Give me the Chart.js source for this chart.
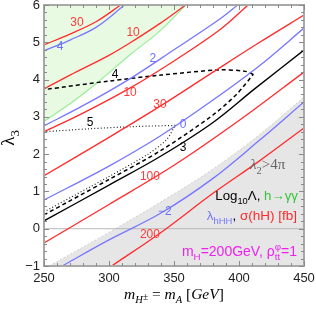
<!DOCTYPE html>
<html><head><meta charset="utf-8">
<script src="https://cdn.jsdelivr.net/npm/chart.js@4.4.0/dist/chart.umd.min.js"></script>
<style>html,body{margin:0;padding:0;background:#fff}canvas{display:block}</style>
</head><body>
<canvas id="c" width="316" height="309"></canvas>
<script>
// ---- axis ranges and ticks ----
const xTicks = [250, 300, 350, 400, 450];
const yTicks = [-1, 0, 1, 2, 3, 4, 5, 6];

// ---- sigma(hH) [fb] contours (red) ----
const sigma30Upper = [[250,4.93],[270,5.22],[290,5.55],[309,6]];
const sigma10Upper = [[250,3.75],[270,4.12],[300,4.65],[316,4.98],[339,5.5],[359,6]];
const sigma10Lower = [[250,2.6],[280,3.1],[316,3.77],[350,4.5],[385,5.33],[407,6]];
const sigma30Lower = [[250,1.42],[300,2.45],[340,3.3],[380,4.2],[415,4.98],[450,5.73]];
const sigma100     = [[250,-0.38],[300,0.65],[350,1.7],[400,2.9],[450,4.2]];
const sigma200     = [[302,-1],[340,-0.1],[380,0.95],[415,1.8],[450,2.7]];
// ---- lambda_hHH contours (blue) ----
const lam4  = [[250,4.77],[270,5.06],[290,5.4],[312,6]];
const lam2  = [[250,2.76],[280,3.3],[316,4.02],[350,4.8],[385,5.62],[399,6]];
const lam0  = [[250,0.77],[300,1.68],[340,2.5],[380,3.45],[415,4.35],[450,5.38]];
const lamM2 = [[264,-1],[300,-0.3],[340,0.42],[380,1.35],[415,2.35],[450,3.4]];
// ---- Log10 Lambda contours (black) ----
const log3       = [[250,0.21],[300,1.17],[340,1.95],[380,2.85],[412,3.75],[450,4.79]];
const log4Lower  = [[250,0.37],[300,1.32],[340,2.1],[380,3.05],[398,3.6],[411,4.14]];
const log4Upper  = [[411,4.14],[405,4.22],[385,4.26],[340,4.12],[300,3.96],[250,3.73]];
const log5Lower  = [[250,0.45],[300,1.4],[330,2.0],[344,2.38],[351,2.77]];
const log5Upper  = [[351,2.77],[320,2.74],[285,2.68],[250,2.6]];
// ---- h->gamma gamma boundary (excluded above) ----
const hgg = [[250,2.88],[270,3.35],[289,3.86],[316,4.66],[339,5.3],[359,6]];
// ---- lambda2 > 4pi boundary (excluded below) ----
const pertBound = [[254,-1],[300,-0.1],[340,0.72],[380,1.6],[415,2.5],[450,3.53]];
// ---- y = 0 axis line ----
const zeroLine = [[250,0],[450,0]];

// ---- contour labels ----
const cLabelText = ['30','4','10','2','4','10','30','5','0','3','100','\u22122','200'];
const cLabelX    = [275.4,262.3,318.5,333.8,304.6,316.2,339.2,285.4,357,357,331.5,343,331.5];
const cLabelY    = [5.52,4.87,5.25,4.55,4.12,3.64,3.32,2.84,2.78,2.17,1.39,0.45,-0.17];
const cLabelKind = ['r','b','r','b','k','r','r','k','b','k','r','b','r'];

const RED = '#ff2b2b', BLUE = '#7676ff', BLACK = '#000', GREEN = '#33c533', MAG = '#ee22ee';
const kindColor = {r:'#ff3a3a', b:'#6e6eff', k:'#000'};

const pts = a => a.map(p => ({x:p[0], y:p[1]}));
function ds(data, color, extra) {
  return Object.assign({data: pts(data), borderColor: color, borderWidth: 1.3, pointRadius: 0,
    tension: 0.35, fill: false}, extra || {});
}
const dashed = {borderWidth: 1.5, borderDash: [4, 3], tension: 0.3};
const dotted = {borderWidth: 1.2, borderDash: [1, 2.2], tension: 0.3};

const datasets = [
  ds(sigma30Upper, RED), ds(sigma10Upper, RED), ds(sigma10Lower, RED), ds(sigma30Lower, RED),
  ds(sigma100, RED), ds(sigma200, RED),
  ds(lam4, BLUE), ds(lam2, BLUE), ds(lam0, BLUE), ds(lamM2, BLUE),
  ds(log3, BLACK, {borderWidth: 1.4}),
  ds(log4Lower, BLACK, dashed), ds(log4Upper, BLACK, dashed),
  ds(log5Lower, '#222', dotted), ds(log5Upper, '#222', dotted),
  ds(zeroLine, '#b8b8b8', {borderWidth: 1, tension: 0}),
  ds(hgg, '#98ec98', {borderWidth: 1.2, fill: 'end', backgroundColor: '#e9fae3'}),
  ds(pertBound, '#cfcfcf', {borderWidth: 1, borderDash: [2, 2], fill: 'start', backgroundColor: '#e6e6e6'})
];

function layoutRuns(ctx, runs, size, fam) {
  let w = 0, pending = 0; const out = [];
  for (const r of runs) {
    const fs = size * (r.sc || 1);
    ctx.font = (r.it ? 'italic ' : '') + fs + 'px ' + (r.f || fam);
    const tw = ctx.measureText(r.t).width;
    out.push(Object.assign({}, r, {fs: fs, x: w}));
    if (r.keep) pending = Math.max(pending, tw);
    else { w += Math.max(tw, pending); pending = 0; }
  }
  return {out: out, w: w};
}
function drawRich(ctx, runs, x, y, align, size, fam) {
  const L = layoutRuns(ctx, runs, size, fam);
  let x0 = align === 'right' ? x - L.w : align === 'center' ? x - L.w / 2 : x;
  ctx.textAlign = 'left'; ctx.textBaseline = 'alphabetic';
  for (const r of L.out) {
    ctx.font = (r.it ? 'italic ' : '') + r.fs + 'px ' + (r.f || fam);
    ctx.fillStyle = r.c || '#000';
    ctx.fillText(r.t, x0 + r.x, y + (r.dy || 0) * size);
  }
}

const SANS = '"Liberation Sans", Arial, sans-serif';
const SERIF = '"Liberation Serif", "DejaVu Serif", serif';

const decor = {
  id: 'decor',
  afterDatasetsDraw(chart) {
    const {ctx, chartArea: a, scales: {x, y}} = chart;
    ctx.save();
    // contour labels
    ctx.font = '12px ' + SANS; ctx.textAlign = 'center'; ctx.textBaseline = 'middle';
    for (let i = 0; i < cLabelText.length; i++) {
      ctx.fillStyle = kindColor[cLabelKind[i]];
      ctx.fillText(cLabelText[i], x.getPixelForValue(cLabelX[i]), y.getPixelForValue(cLabelY[i]));
    }
    // annotations
    drawRich(ctx, [{t:'\u03bb', it:true, c:'#666'}, {t:'2', sc:0.7, dy:0.3, c:'#666'}, {t:'>4\u03c0', c:'#666'}],
      x.getPixelForValue(408.5), y.getPixelForValue(1.6), 'left', 15, SERIF);
    drawRich(ctx, [{t:'Log', c:'#000'}, {t:'10', sc:0.7, dy:0.3}, {t:'\u039b, ', c:'#000'}, {t:'h\u2192\u03b3\u03b3', c:GREEN}],
      x.getPixelForValue(445.4), y.getPixelForValue(0.77), 'right', 13.3, SANS);
    drawRich(ctx, [{t:'\u03bb', c:BLUE}, {t:'hHH', sc:0.7, dy:0.3, c:BLUE}, {t:', ', c:'#000'}, {t:'\u03c3(hH) [fb]', c:RED}],
      x.getPixelForValue(444.6), y.getPixelForValue(0.24), 'right', 13.5, SANS);
    drawRich(ctx, [{t:'m', c:MAG}, {t:'H', sc:0.7, dy:0.3, c:MAG}, {t:'=200GeV, \u03c1', c:MAG},
      {t:'\u03c6', sc:0.7, dy:-0.45, c:MAG, keep:true}, {t:'tt', sc:0.7, dy:0.3, c:MAG}, {t:'=1', c:MAG}],
      x.getPixelForValue(444.6), y.getPixelForValue(-0.73), 'right', 14, SANS);

    // frame
    ctx.strokeStyle = '#a8a8a8'; ctx.lineWidth = 2;
    ctx.strokeRect(a.left, a.top, a.right - a.left, a.bottom - a.top);
    // ticks
    ctx.strokeStyle = '#8a8a8a'; ctx.lineWidth = 1;
    ctx.beginPath();
    for (let v = 250; v <= 450; v += 10) {
      const px = Math.round(x.getPixelForValue(v)) + 0.5;
      const L = (v % 50 === 0) ? 5 : 3;
      ctx.moveTo(px, a.bottom); ctx.lineTo(px, a.bottom - L);
      ctx.moveTo(px, a.top); ctx.lineTo(px, a.top + L);
    }
    for (let k = -5; k <= 30; k++) {
      const v = k / 5;
      const py = Math.round(y.getPixelForValue(v)) + 0.5;
      const L = (k % 5 === 0) ? 5 : 3;
      ctx.moveTo(a.left, py); ctx.lineTo(a.left + L, py);
      ctx.moveTo(a.right, py); ctx.lineTo(a.right - L, py);
    }
    ctx.stroke();

    // x axis title
    drawRich(ctx, [{t:'m', it:true}, {t:'H', it:true, sc:0.68, dy:0.28}, {t:'\u00b1', sc:0.6, dy:0.05},
      {t:' = '}, {t:'m', it:true}, {t:'A', it:true, sc:0.68, dy:0.28}, {t:' ['}, {t:'GeV', it:true}, {t:']'}],
      174, 299, 'center', 15.5, SERIF);
    // y axis title
    ctx.translate(14, 138); ctx.rotate(-Math.PI / 2);
    drawRich(ctx, [{t:'\u03bb'}, {t:'3', sc:0.68, dy:0.28}], 0, 0, 'center', 19, SERIF);
    ctx.restore();
  }
};

new Chart(document.getElementById('c'), {
  type: 'line',
  data: {datasets: datasets},
  options: {
    responsive: false, animation: false, devicePixelRatio: 1,
    layout: {padding: {top: 5, right: 12, left: 0, bottom: 0}},
    plugins: {legend: {display: false}, tooltip: {enabled: false}, filler: {drawTime: 'beforeDatasetsDraw'}},
    scales: {
      x: {type: 'linear', min: 250, max: 450,
        afterBuildTicks: s => { s.ticks = xTicks.map(v => ({value: v})); },
        ticks: {font: {size: 13, family: SANS}, color: '#222', padding: 5, maxRotation: 0},
        grid: {display: false, drawTicks: false}, border: {display: false},
        afterFit: s => { s.height = 43; s.paddingLeft = 0; s.paddingRight = 0; }},
      y: {type: 'linear', min: -1, max: 6,
        afterBuildTicks: s => { s.ticks = yTicks.map(v => ({value: v})); },
        ticks: {font: {size: 13, family: SANS}, color: '#222', padding: 4,
          callback: v => v < 0 ? '\u2212' + Math.abs(v) : String(v)},
        grid: {display: false, drawTicks: false}, border: {display: false},
        afterFit: s => { s.width = 44; s.paddingTop = 0; s.paddingBottom = 0; }}
    }
  },
  plugins: [decor]
});
</script>
</body></html>
